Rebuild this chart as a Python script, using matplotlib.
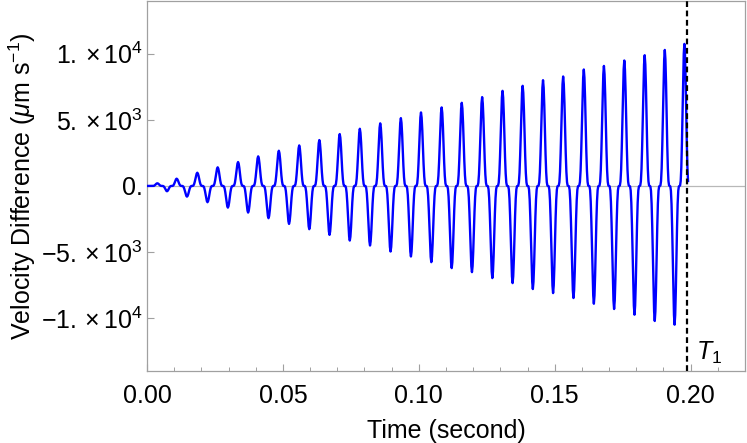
import numpy as np
import matplotlib
matplotlib.use("Agg")
import matplotlib.pyplot as plt
from matplotlib.ticker import FixedLocator, FixedFormatter, MultipleLocator

plt.rcParams['font.family'] = ['Liberation Sans', 'DejaVu Sans']
plt.rcParams['mathtext.fontset'] = 'custom'
plt.rcParams['mathtext.rm'] = 'Liberation Sans'
plt.rcParams['mathtext.it'] = 'Liberation Sans:italic'

# peak times (s) and values
peak_times = [0.0038, 0.0109, 0.0185, 0.0260, 0.0335, 0.0409, 0.0485, 0.0560,
              0.0634, 0.0709, 0.0783, 0.0858, 0.0934, 0.1008, 0.1084, 0.1158,
              0.1233, 0.1308, 0.1382, 0.1457, 0.1531, 0.1607, 0.1681, 0.1756,
              0.1831, 0.1905, 0.1977]
peak_values = [200, 550, 1000, 1410, 1810, 2240, 2665, 3065, 3470, 3925,
               4325, 4735, 5130, 5560, 5940, 6290, 6720, 7195, 7575, 8000,
               8280, 8810, 9080, 9490, 9890, 10290, 10745]
# trough after each peak
trough_values = [-400, -810, -1230, -1640, -2015, -2440, -2870, -3270, -3700,
                 -4130, -4505, -4960, -5335, -5765, -6215, -6520, -6970,
                 -7350, -7800, -8105, -8480, -8910, -9310, -9740, -10215,
                 -10495]
# half-lobe shape, zero crossing -> peak (normalised)
lobe = [0.0, 0.003, 0.035, 0.13, 0.30, 0.52, 0.76, 0.93, 1.0]
T1 = 0.1988

ticks_y = [-1e4, -5e3, 0, 5e3, 1e4]
ticks_y_labels = [r'$-1.\times10^{4}$', r'$-5.\times10^{3}$', '0.',
                  r'$5.\times10^{3}$', r'$1.\times10^{4}$']

# assemble the curve from the read peaks/troughs and the lobe shape
lobe = np.array(lobe)
n = len(lobe) - 1
frac = np.arange(n + 1) / n
rise = lobe            # 0 -> 1
fall = lobe[::-1]      # 1 -> 0
t_list = [np.array([0.0])]
v_list = [np.array([0.0])]
q0 = (peak_times[1] - peak_times[0]) / 4
t_list.append(peak_times[0] - q0 + frac * q0)
v_list.append(rise * peak_values[0])
for k in range(len(trough_values)):
    q = (peak_times[k + 1] - peak_times[k]) / 4
    tk = peak_times[k]
    t_list.append(tk + frac[1:] * q)
    v_list.append(fall[1:] * peak_values[k])
    t_list.append(tk + q + frac[1:] * q)
    v_list.append(rise[1:] * trough_values[k])
    t_list.append(tk + 2 * q + frac[1:] * q)
    v_list.append(fall[1:] * trough_values[k])
    t_list.append(tk + 3 * q + frac[1:] * q)
    v_list.append(rise[1:] * peak_values[k + 1])
q = (peak_times[-1] - peak_times[-2]) / 4
t_list.append(peak_times[-1] + frac[1:] * q)
v_list.append(fall[1:] * peak_values[-1])
t = np.concatenate(t_list)
v = np.concatenate(v_list)
keep = t <= T1 + 0.0004
t, v = t[keep], v[keep]

fig = plt.figure(figsize=(7.47, 4.43), dpi=100)
ax = fig.add_axes([0.1968, 0.1625, 0.8005, 0.8355])

ax.axhline(0, color='#b8b8b8', lw=0.9, zorder=1)
ax.plot(t, v, color='#0000ff', lw=1.7, zorder=3, solid_joinstyle='round')
ax.axvline(T1, color='black', lw=1.6, dashes=(2.6, 1.6), zorder=4)
ax.text(T1 + 0.0032, -1.26e4, r'$T_1$', fontsize=18, ha='left', va='center')

ax.set_xlim(0, 0.22)
ax.set_ylim(-1.4e4, 1.4e4)
ax.xaxis.set_major_locator(MultipleLocator(0.05))
ax.xaxis.set_minor_locator(MultipleLocator(0.01))
ax.xaxis.set_major_formatter(plt.FuncFormatter(lambda x, p: f'{x:.2f}'))
ax.yaxis.set_major_locator(FixedLocator(ticks_y))
ax.yaxis.set_major_formatter(FixedFormatter(ticks_y_labels))

for s in ax.spines.values():
    s.set_color('#a0a0a0')
    s.set_linewidth(0.9)
ax.tick_params(which='both', direction='in', color='#a0a0a0', labelsize=18,
               labelcolor='black')
ax.tick_params(which='major', length=5, width=0.8)
ax.tick_params(which='minor', length=3, width=0.7)
ax.tick_params(axis='x', which='major', pad=9)
ax.tick_params(axis='y', which='major', pad=3)

ax.set_xlabel('Time (second)', fontsize=18, labelpad=8)
ax.set_ylabel(r'Velocity Difference ($\mu$m s$^{-1}$)', fontsize=18, labelpad=2)

fig.savefig('out.png', dpi=100)
